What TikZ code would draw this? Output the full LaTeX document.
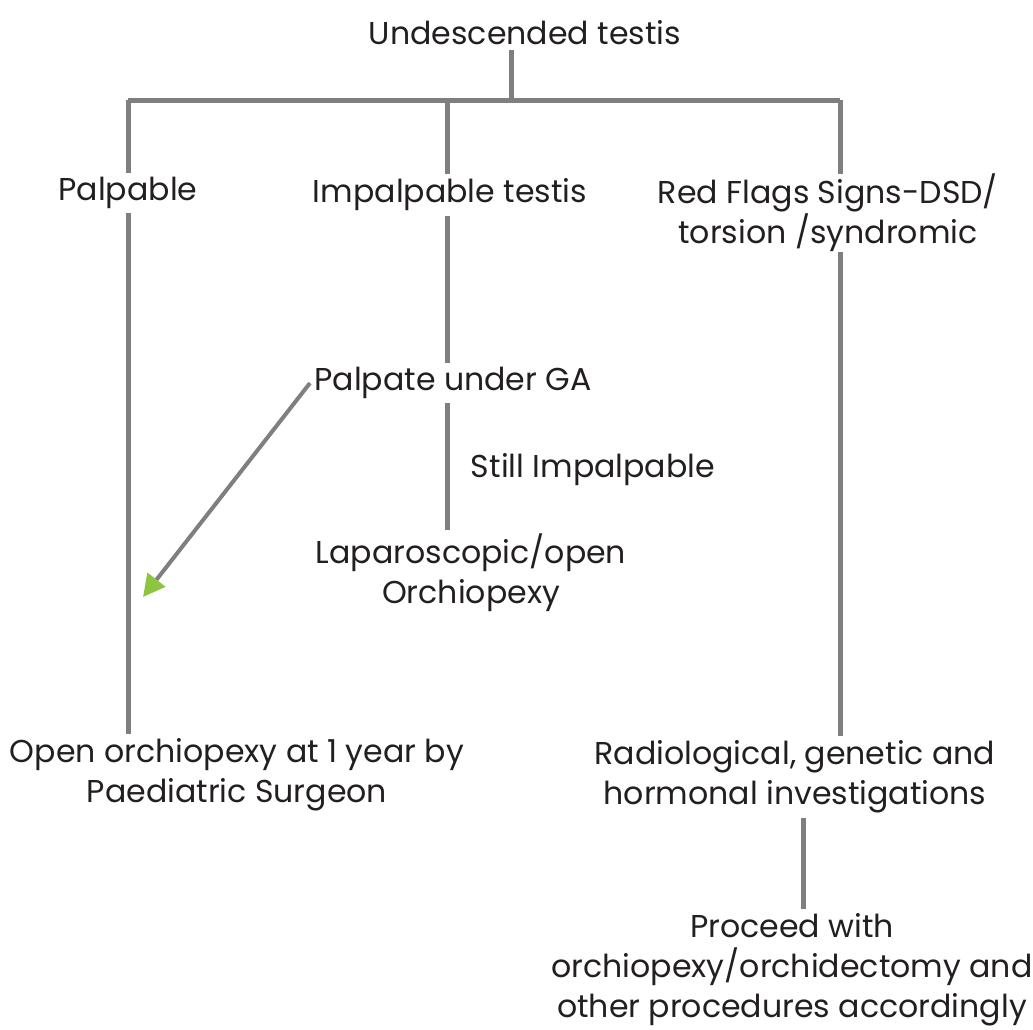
\documentclass[tikz,border=0pt]{standalone}
\usepackage{fontspec}
\setmainfont{Poppins}
\usetikzlibrary{arrows.meta,positioning}
\definecolor{linkgray}{HTML}{7F7F7F}
\definecolor{tipgreen}{HTML}{8CC63F}
\definecolor{inkcol}{HTML}{231F20}

\begin{document}
\begin{tikzpicture}[
  x=0.5pt, y=-0.5pt,
  font=\fontsize{15.8}{20}\selectfont,
  box/.style={text=inkcol, align=center, inner sep=2pt},
  link/.style={linkgray, line width=2.5pt},
  pointer/.style={linkgray, line width=2pt, -{Triangle[tipgreen, length=11pt, width=11pt]}}
]
\useasboundingbox (0,0) rectangle (1033,1029);

% nodes
\node[box] (top) at (525,33) {Undescended testis};
\node[box] (palp) at (128,193) {Palpable};
\node[box] (impal) at (450,195) {Impalpable testis};
\node[box, inner ysep=0pt] (flags) at (828,213) {Red Flags Signs-DSD/\\torsion /syndromic};
\node[box] (ga) at (453,383) {Palpate under GA};
\node[box] (still) at (593,470) {Still Impalpable};
\node[box] (lap) at (471,573) {Laparoscopic/open\\Orchiopexy};
\node[box] (open) at (237,775) {Open orchiopexy at 1 year by\\Paediatric Surgeon};
\node[box] (radio) at (795,777) {Radiological, genetic and\\hormonal investigations};
\node[box] (proceed) at (792,970) {Proceed with\\orchiopexy/orchidectomy and\\other procedures accordingly};

% branch points
\coordinate (stem) at (511,100);
\coordinate (b1) at (128,100);
\coordinate (b2) at (447,100);
\coordinate (b3) at (840,100);
\coordinate (b4) at (803,100);
\coordinate (tipend) at (143,597);

% connectors
\draw[link] (stem |- top.south) -- (stem);
\draw[link] (b1) -- (b3);
\draw[link] (b1) -- (b1 |- palp.north);
\draw[link] (b2) -- (b2 |- impal.north);
\draw[link] (b3) -- (b3 |- flags.north);
\draw[link] (b1 |- palp.south) -- (b1 |- open.north);
\draw[link] (b2 |- impal.south) -- (b2 |- ga.north);
\draw[link] (b2 |- ga.south) -- (b2 |- lap.north);
\draw[link] (b3 |- flags.south) -- (b3 |- radio.north);
\draw[link] (b4 |- radio.south) -- (b4 |- proceed.north);
\draw[pointer] (ga.west) -- (tipend);
\end{tikzpicture}
\end{document}
